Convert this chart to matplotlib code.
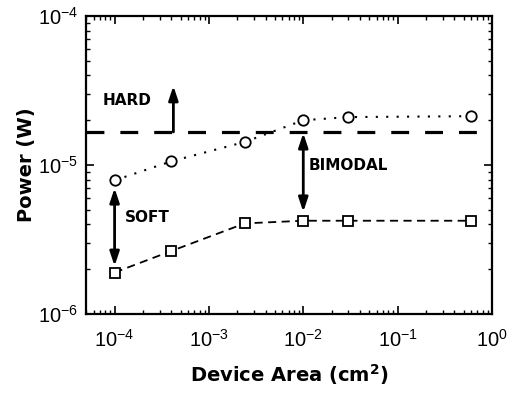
import matplotlib
matplotlib.use("Agg")
import matplotlib.pyplot as plt

plt.rcParams['font.family'] = ['Liberation Sans', 'DejaVu Sans']
plt.rcParams['mathtext.fontset'] = 'custom'
plt.rcParams['mathtext.rm'] = 'Liberation Sans'
plt.rcParams['mathtext.it'] = 'Liberation Sans:italic'
plt.rcParams['mathtext.bf'] = 'DejaVu Sans:bold'
plt.rcParams['axes.unicode_minus'] = False

# device areas (cm^2)
area = [1e-4, 4e-4, 2.4e-3, 1e-2, 3e-2, 0.6]
# upper curve (circles) and lower curve (squares), power in W
p_hard_onset = [7.9e-6, 1.06e-5, 1.43e-5, 2.0e-5, 2.1e-5, 2.13e-5]
p_soft_onset = [1.9e-6, 2.65e-6, 4.06e-6, 4.23e-6, 4.23e-6, 4.23e-6]
hard_level = 1.67e-5

BOLD = dict(family='DejaVu Sans', fontweight='bold')


def main():
    fig = plt.figure(figsize=(5.13, 3.94), dpi=100)
    ax = fig.add_axes([0.168, 0.203, 0.791, 0.756])

    ax.plot(area, p_hard_onset, color='black', linestyle=(0, (1, 4)), linewidth=1.5,
            marker='o', markersize=7.5, markerfacecolor='white', markeredgewidth=1.3, zorder=3)
    ax.plot(area, p_soft_onset, color='black', linestyle=(0, (4.5, 3)), linewidth=1.3,
            marker='s', markersize=7, markerfacecolor='white', markeredgewidth=1.3, zorder=3)
    ax.axhline(hard_level, color='black', linestyle=(0, (5.6, 5)), linewidth=2.3, zorder=2)

    ax.set_xscale('log')
    ax.set_yscale('log')
    ax.set_xlim(5e-5, 1)
    ax.set_ylim(1e-6, 1e-4)

    arrow = dict(arrowstyle='-|>,head_length=0.6,head_width=0.2', color='black', lw=2,
                 mutation_scale=14, shrinkA=0, shrinkB=0)
    darrow = dict(arrowstyle='<|-|>,head_length=0.6,head_width=0.2', color='black', lw=2,
                  mutation_scale=14, shrinkA=0, shrinkB=0)
    ax.annotate('', xy=(4.2e-4, 3.4e-5), xytext=(4.2e-4, hard_level), arrowprops=arrow)
    ax.annotate('', xy=(1e-4, 7.0e-6), xytext=(1e-4, 2.1e-6), arrowprops=darrow)
    ax.annotate('', xy=(1e-2, 1.64e-5), xytext=(1e-2, 4.85e-6), arrowprops=darrow)

    ax.text(7.5e-5, 2.73e-5, 'HARD', fontsize=11, va='center', ha='left', **BOLD)
    ax.text(1.3e-4, 4.48e-6, 'SOFT', fontsize=11, va='center', ha='left', **BOLD)
    ax.text(1.13e-2, 1.0e-5, 'BIMODAL', fontsize=11, va='center', ha='left', **BOLD)

    ax.set_xlabel('Device Area (cm$^\\mathbf{2}$)', fontsize=14, labelpad=8, **BOLD)
    ax.set_ylabel('Power (W)', fontsize=14, labelpad=1, **BOLD)

    ax.tick_params(which='both', direction='in', top=True, right=True, labelsize=14.5)
    ax.tick_params(axis='x', which='major', pad=11)
    ax.tick_params(axis='y', which='major', pad=6)
    ax.tick_params(which='major', length=6, width=1.2)
    ax.tick_params(which='minor', length=3, width=1)
    for s in ax.spines.values():
        s.set_linewidth(1.6)

    fig.savefig('out.png', dpi=100)


if __name__ == "__main__":
    main()
